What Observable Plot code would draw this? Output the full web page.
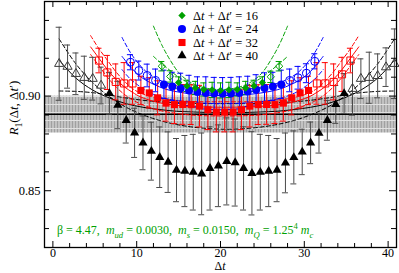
<!DOCTYPE html>
<html><head><meta charset="utf-8">
<script src="https://cdn.jsdelivr.net/npm/d3@7"></script>
<script src="https://cdn.jsdelivr.net/npm/@observablehq/plot@0.6"></script>
<style>
body{margin:0;background:#fff}
#chart svg{display:block}
#chart svg text{font-family:"Liberation Serif","Times New Roman",serif;}
</style>
</head><body>
<svg width="0" height="0" style="position:absolute"><defs>
<pattern id="r1hatch" width="3" height="8" patternUnits="userSpaceOnUse">
<rect width="3" height="8" fill="#c2c2c2"/><rect width="1" height="8" fill="#a0a0a0"/><rect width="3" height="1" fill="#e0e0e0"/>
</pattern></defs></svg>
<div id="chart"></div>
<script>
// ---------------- data ----------------
const sums = [16, 24, 32, 40];                 // Δt + Δt'
const xTickMajor = [0, 10, 20, 30, 40];
const xTickMinor = [2, 4, 6, 8, 12, 14, 16, 18, 22, 24, 26, 28, 32, 34, 36, 38];
const yTickMajor = [0.85, 0.90];
const yTickMinor = [0.83, 0.84, 0.86, 0.87, 0.88, 0.89, 0.91, 0.92, 0.93, 0.94];
const r1Band = [0.8805, 0.9000];
const r1Value = [0.8904];

// Δt+Δt' = 40 (Δt = 0..40), fit range 6..34
const blkVal = [0.9171, 0.9156, 0.9118, 0.9097, 0.9092, 0.9056,
  0.9014, 0.8953, 0.8872, 0.8806, 0.8753, 0.8709, 0.8677, 0.8651, 0.8609, 0.8604, 0.8598, 0.8589, 0.8618, 0.8632,
  0.8655, 0.8649, 0.8618, 0.8592, 0.8598, 0.8604, 0.8609, 0.8647, 0.8676, 0.8705, 0.8753, 0.8804, 0.8872, 0.8956, 0.9014,
  0.9039, 0.9092, 0.9097, 0.9107, 0.9153, 0.9171];
const blkErr = [0.0193, 0.0114, 0.011, 0.0114, 0.0113, 0.0097,
  0.011, 0.0125, 0.012, 0.013, 0.0142, 0.0153, 0.016, 0.016, 0.0167, 0.0188, 0.02, 0.0216, 0.022, 0.0216,
  0.023, 0.023, 0.022, 0.022, 0.02, 0.0188, 0.0167, 0.0158, 0.014, 0.012, 0.011, 0.0105, 0.0105, 0.01, 0.0105,
  0.014, 0.0105, 0.0135, 0.0116, 0.0102, 0.0184];
const blkFirst = 0, blkFit = [6, 34];

// Δt+Δt' = 32 (Δt = 1..31), fit range 6..26
const redVal = [0.9188, 0.9125, 0.9075, 0.9067, 0.9067,
  0.903, 0.9017, 0.8991, 0.8963, 0.8955, 0.8956, 0.8955, 0.8947, 0.8928, 0.8916, 0.8916, 0.8916, 0.8928, 0.8947,
  0.8955, 0.8956, 0.8955, 0.8963, 0.8991, 0.9017, 0.903,
  0.9067, 0.9067, 0.9075, 0.9115, 0.9188];
const redErr = [0.0065, 0.009, 0.0095, 0.011, 0.011,
  0.0075, 0.008, 0.009, 0.0095, 0.01, 0.0105, 0.0105, 0.011, 0.0105, 0.0105, 0.0105, 0.0105, 0.0105, 0.011,
  0.0105, 0.0105, 0.01, 0.0095, 0.009, 0.008, 0.0075,
  0.011, 0.011, 0.0095, 0.009, 0.0065];
const redFirst = 1, redFit = [6, 26];

// Δt+Δt' = 24 (Δt = 1..23), fit range 5..19
const bluVal = [0.9179, 0.9135, 0.9109, 0.9083,
  0.9062, 0.9051, 0.9041, 0.903, 0.9022, 0.9017, 0.9014, 0.9013, 0.9014, 0.9017, 0.9025, 0.9033, 0.9043, 0.9051, 0.9062,
  0.9083, 0.9097, 0.9121, 0.9184];
const bluErr = [0.004, 0.005, 0.006, 0.006,
  0.0075, 0.0075, 0.008, 0.008, 0.008, 0.0085, 0.0085, 0.0085, 0.0085, 0.0085, 0.008, 0.008, 0.008, 0.0075, 0.0075,
  0.006, 0.006, 0.005, 0.004];
const bluFirst = 1, bluFit = [5, 19];

// Δt+Δt' = 16 (Δt = 1..15), fit range 3..13
const grnVal = [0.9158, 0.9104,
  0.9072, 0.9054, 0.9043, 0.9035, 0.9033, 0.903, 0.9033, 0.9035, 0.9043, 0.9054, 0.9072,
  0.9102, 0.9158];
const grnErr = [0.0025, 0.003, 0.003, 0.003, 0.0035, 0.0035, 0.004, 0.004, 0.004, 0.0035, 0.0035, 0.003, 0.003, 0.003, 0.0025];
const grnFirst = 1, grnFit = [3, 13];

// fit curves: offset from the symmetric point, and values (hi / mid / lo)
const blkCurveU = [-20, -18, -16, -14, -12, -10, -8, -6, -4, -2, 0, 2, 4, 6, 8, 10, 12, 14, 16, 18, 20];
const blkCurveMid = [0.919, 0.9095, 0.9032, 0.899, 0.896, 0.8941, 0.8929, 0.892, 0.8916, 0.8913, 0.8912, 0.8913, 0.8916, 0.892, 0.8929, 0.8941, 0.896, 0.899, 0.9032, 0.9095, 0.919];
const blkCurveLo = [0.9302, 0.917, 0.9071, 0.8997, 0.8941, 0.8901, 0.8871, 0.885, 0.8836, 0.8828, 0.8825, 0.8828, 0.8836, 0.885, 0.8871, 0.8901, 0.8941, 0.8997, 0.9071, 0.917, 0.9302];
const blkCurveHi = [0.9027, 0.9025, 0.9018, 0.9005, 0.899, 0.8978, 0.897, 0.8965, 0.8962, 0.896, 0.896, 0.896, 0.8962, 0.8965, 0.897, 0.8978, 0.899, 0.9005, 0.9018, 0.9025, 0.9027];

const redCurveU = [-16, -15, -14, -13, -12, -11, -10, -8, -6, -4, -2, 0, 2, 4, 6, 8, 10, 11, 12, 13, 14, 15, 16];
const redCurveHi = [0.932, 0.925, 0.919, 0.913, 0.908, 0.904, 0.9015, 0.899, 0.8978, 0.8972, 0.897, 0.897, 0.897, 0.8972, 0.8978, 0.899, 0.9015, 0.904, 0.908, 0.913, 0.919, 0.925, 0.932];
const redCurveMid = [0.926, 0.92, 0.914, 0.909, 0.905, 0.902, 0.8995, 0.8967, 0.8952, 0.8945, 0.8942, 0.8941, 0.8942, 0.8945, 0.8952, 0.8967, 0.8995, 0.902, 0.905, 0.909, 0.914, 0.92, 0.926];
const redCurveLo = [0.922, 0.916, 0.91, 0.905, 0.901, 0.898, 0.8958, 0.8927, 0.891, 0.89, 0.8896, 0.8895, 0.8896, 0.89, 0.891, 0.8927, 0.8958, 0.898, 0.901, 0.905, 0.91, 0.916, 0.922];

const bluCurveU = [-12, -11, -10, -9, -8, -7, -6, -4, -2, 0, 2, 4, 6, 7, 8, 9, 10, 11, 12];
const bluCurveHi = [0.931, 0.923, 0.917, 0.9125, 0.9095, 0.9075, 0.906, 0.9043, 0.9035, 0.9033, 0.9035, 0.9043, 0.906, 0.9075, 0.9095, 0.9125, 0.917, 0.923, 0.931];
const bluCurveMid = [0.921, 0.9155, 0.911, 0.908, 0.9058, 0.904, 0.9028, 0.9013, 0.9005, 0.9003, 0.9005, 0.9013, 0.9028, 0.904, 0.9058, 0.908, 0.911, 0.9155, 0.921];
const bluCurveLo = [0.914, 0.909, 0.9055, 0.9025, 0.9005, 0.899, 0.898, 0.8968, 0.8962, 0.896, 0.8962, 0.8968, 0.898, 0.899, 0.9005, 0.9025, 0.9055, 0.909, 0.914];

const grnCurveU = [-8, -7, -6, -5, -4, -3, -2, -1, 0, 1, 2, 3, 4, 5, 6, 7, 8];
const grnCurveHi = [0.937, 0.927, 0.919, 0.9125, 0.9085, 0.906, 0.9045, 0.9037, 0.9035, 0.9037, 0.9045, 0.906, 0.9085, 0.9125, 0.919, 0.927, 0.937];
const grnCurveLo = [0.921, 0.917, 0.9135, 0.91, 0.9074, 0.9052, 0.9036, 0.9027, 0.9024, 0.9027, 0.9036, 0.9052, 0.9074, 0.91, 0.9135, 0.917, 0.921];

// ---------------- layout / style ----------------
const W = 399, H = 273, mL = 44, mR = 3, mT = 1, mB = 26;
const xDom = [-1, 41], yDom = [0.82, 0.95];
const pxX = (W - mL - mR) / (xDom[1] - xDom[0]);
const pxY = (H - mT - mB) / (yDom[1] - yDom[0]);
const GREEN = "#00a000", BLUE = "#0000ff", RED = "#ff0000", BLACK = "#000000";
const FONT = "Liberation Serif, Times New Roman, serif";

const series = [
  {T: 40, val: blkVal, err: blkErr, first: blkFirst, fit: blkFit, shift: 0.75, color: BLACK, bar: "#4a4a4a", symbol: "triangle", r: 3.4,
   curves: [[blkCurveU, blkCurveHi, true], [blkCurveU, blkCurveMid, false], [blkCurveU, blkCurveLo, true]]},
  {T: 32, val: redVal, err: redErr, first: redFirst, fit: redFit, shift: 0.5, color: RED, bar: RED, symbol: "square", r: 4,
   curves: [[redCurveU, redCurveHi, true], [redCurveU, redCurveMid, false], [redCurveU, redCurveLo, true]]},
  {T: 24, val: bluVal, err: bluErr, first: bluFirst, fit: bluFit, shift: 0.25, color: BLUE, bar: BLUE, symbol: "circle", r: 4,
   curves: [[bluCurveU, bluCurveHi, true], [bluCurveU, bluCurveMid, false], [bluCurveU, bluCurveLo, true]]},
  {T: 16, val: grnVal, err: grnErr, first: grnFirst, fit: grnFit, shift: 0, color: GREEN, bar: GREEN, symbol: "diamond2", r: 3.3,
   curves: [[grnCurveU, grnCurveHi, true], [grnCurveU, grnCurveLo, true]]}
];

for (const s of series) {
  const off = (40 - s.T) / 2 + s.shift;
  s.pts = s.val.map((v, i) => {
    const dt = s.first + i;
    return {x: dt + off, v, e: s.err[i], inFit: dt >= s.fit[0] && dt <= s.fit[1]};
  });
  s.lines = s.curves.map(([u, vals, dashed]) => ({dashed, pts: u.map((uu, i) => ({x: uu + 20 + s.shift, v: vals[i]}))}));
}

const capHalf = 3 / pxX;
const marks = [];
marks.push(Plot.rect([r1Band], {x1: xDom[0], x2: xDom[1], y1: d => d[0], y2: d => d[1], fill: "url(#r1hatch)"}));
marks.push(Plot.ruleY(r1Value, {y: d => d, stroke: "black", strokeWidth: 1.6}));
for (const s of series) {
  for (const ln of s.lines) {
    marks.push(Plot.line(ln.pts, {x: "x", y: "v", stroke: s.color, strokeWidth: 1,
      strokeDasharray: ln.dashed ? "4,2.5" : null, curve: "catmull-rom", clip: true}));
  }
}
for (const s of series) {
  marks.push(Plot.ruleX(s.pts, {x: "x", y1: d => d.v - d.e, y2: d => d.v + d.e, stroke: s.bar, strokeWidth: 1}));
  marks.push(Plot.ruleY(s.pts, {y: d => d.v + d.e, x1: d => d.x - capHalf, x2: d => d.x + capHalf, stroke: s.bar, strokeWidth: 1}));
  marks.push(Plot.ruleY(s.pts, {y: d => d.v - d.e, x1: d => d.x - capHalf, x2: d => d.x + capHalf, stroke: s.bar, strokeWidth: 1}));
}
for (const s of series) {
  marks.push(Plot.dot(s.pts.filter(d => !d.inFit), {x: "x", y: "v", symbol: s.symbol, r: s.r, fill: "none",
    stroke: s.color === BLACK ? "#3a3a3a" : s.color, strokeWidth: 1}));
  marks.push(Plot.dot(s.pts.filter(d => d.inFit), {x: "x", y: "v", symbol: s.symbol, r: s.r, fill: s.color, stroke: "none"}));
}
// frame + inward ticks
const tyMaj = 6 / pxY, tyMin = 4 / pxY, txMaj = 7 / pxX, txMin = 5 / pxX;
const xt = [...xTickMajor.map(t => ({t, L: tyMaj})), ...xTickMinor.map(t => ({t, L: tyMin}))];
const yt = [...yTickMajor.map(t => ({t, L: txMaj})), ...yTickMinor.map(t => ({t, L: txMin}))];
marks.push(Plot.ruleX(xt, {x: "t", y1: yDom[0], y2: d => yDom[0] + d.L, stroke: "black"}));
marks.push(Plot.ruleX(xt, {x: "t", y1: yDom[1], y2: d => yDom[1] - d.L, stroke: "black"}));
marks.push(Plot.ruleY(yt, {y: "t", x1: xDom[0], x2: d => xDom[0] + d.L, stroke: "black"}));
marks.push(Plot.ruleY(yt, {y: "t", x1: xDom[1], x2: d => xDom[1] - d.L, stroke: "black"}));
marks.push(Plot.frame({stroke: "black", strokeWidth: 1.3}));
marks.push(Plot.axisX(xTickMajor, {tickSize: 0, tickPadding: 1, label: null, fontSize: 12}));
marks.push(Plot.axisY(yTickMajor, {tickSize: 0, tickPadding: 4, label: null, tickFormat: d3.format(".2f"), fontSize: 12.5}));
// legend markers
const legendRows = [15, 28.5, 42, 55];
const legSeries = [series[3], series[2], series[1], series[0]];
legSeries.forEach((s, i) => {
  marks.push(Plot.dot([0], {frameAnchor: "top-left", dx: 181.5 - mL, dy: legendRows[i] - mT, symbol: s.symbol, r: s.r, fill: s.color}));
});

const plot = Plot.plot({
  width: W, height: H, marginLeft: mL, marginRight: mR, marginTop: mT, marginBottom: mB,
  x: {domain: xDom}, y: {domain: yDom},
  style: {fontFamily: FONT, fontSize: "12.5px", background: "white", color: "black"},
  marks
});
document.getElementById("chart").appendChild(plot);

// rich text helper
const svg = d3.select(plot);
function richText(x, y, parts, {anchor = "start", size = 13, fill = "#000", rotate = 0} = {}) {
  const t = svg.append("text").attr("transform", `translate(${x},${y}) rotate(${rotate})`)
    .attr("text-anchor", anchor).attr("font-size", size).attr("fill", fill)
    .attr("font-family", FONT).style("white-space", "pre");
  let shift = 0;
  for (const p of parts) {
    const [s, k = ""] = Array.isArray(p) ? p : [p];
    const sp = t.append("tspan").text(s);
    if (k.includes("i")) sp.attr("font-style", "italic");
    let target = 0;
    if (k.includes("b")) target = size * 0.3;
    if (k.includes("p")) target = -size * 0.42;
    if (target !== shift) { sp.attr("dy", target - shift); shift = target; }
    if (k.includes("b") || k.includes("p")) sp.attr("font-size", size * 0.72);
  }
  return t;
}
legSeries.forEach((s, i) => {
  richText(193, legendRows[i] + 4.5, ["Δ", ["t", "i"], " + Δ", ["t", "i"], "′ = " + s.T], {size: 12.5});
});
richText(57, 234, ["β = 4.47,  ", ["m", "i"], ["ud", "ib"], " = 0.0030,  ", ["m", "i"], ["s", "ib"], " = 0.0150,  ",
  ["m", "i"], ["Q", "ib"], " = 1.25", ["4", "p"], " ", ["m", "i"], ["c", "ib"]], {fill: GREEN, size: 12});
richText(220, 270, ["Δ", ["t", "i"]], {anchor: "middle", size: 12});
richText(18, 108, [["R", "i"], ["1", "b"], "(Δ", ["t", "i"], ", Δ", ["t", "i"], "′)"], {anchor: "middle", rotate: -90});
</script>
</body></html>
